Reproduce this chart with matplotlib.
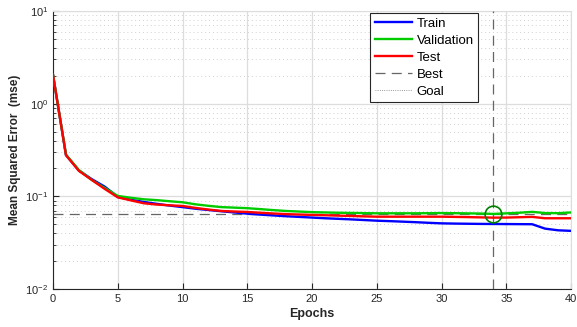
import matplotlib.pyplot as plt
from matplotlib.ticker import LogLocator, NullFormatter, FixedLocator

plt.rcParams['font.family'] = ['Liberation Sans', 'DejaVu Sans']

epochs = list(range(0, 41))
train = [2.04, 0.279, 0.190, 0.153, 0.127, 0.0985, 0.0920, 0.0870, 0.0830, 0.0795,
         0.0765, 0.0735, 0.0712, 0.0690, 0.0670, 0.0650, 0.0635, 0.0622, 0.0610, 0.0600,
         0.0590, 0.0580, 0.0572, 0.0564, 0.0555, 0.0546, 0.0540, 0.0533, 0.0526, 0.0518,
         0.0511, 0.0508, 0.0506, 0.0504, 0.0503, 0.0502, 0.0501, 0.0500, 0.0448, 0.0430,
         0.0424]
validation = [2.04, 0.282, 0.192, 0.150, 0.123, 0.101, 0.0965, 0.0929, 0.0910, 0.0885,
              0.0863, 0.0820, 0.0790, 0.0765, 0.0755, 0.0745, 0.0728, 0.0710, 0.0695, 0.0685,
              0.0675, 0.0670, 0.0665, 0.0662, 0.0659, 0.0656, 0.0656, 0.0656, 0.0656, 0.0658,
              0.0660, 0.0658, 0.0655, 0.0652, 0.0646, 0.0655, 0.0665, 0.0680, 0.0660, 0.0658,
              0.0670]
test = [2.04, 0.278, 0.188, 0.150, 0.120, 0.0975, 0.0905, 0.0842, 0.0815, 0.0800,
        0.0787, 0.0750, 0.0720, 0.0695, 0.0686, 0.0678, 0.0665, 0.0653, 0.0643, 0.0636,
        0.0630, 0.0625, 0.0619, 0.0614, 0.0608, 0.0603, 0.0603, 0.0603, 0.0603, 0.0603,
        0.0603, 0.0600, 0.0597, 0.0593, 0.0589, 0.0590, 0.0595, 0.0600, 0.0580, 0.0580,
        0.0580]
best_epoch = 34
best_perf = validation[best_epoch]
goal = 0

fig = plt.figure(figsize=(5.77, 3.27), dpi=100)
ax = fig.add_axes([0.0919, 0.1162, 0.8977, 0.8502])

lw = 1.7
ax.semilogy(epochs, train, color=(0, 0, 1), lw=lw, label='Train', zorder=5)
ax.semilogy(epochs, validation, color=(0, 0.8, 0), lw=lw, label='Validation', zorder=5)
ax.semilogy(epochs, test, color=(1, 0, 0), lw=lw, label='Test', zorder=5)
ax.plot([best_epoch, best_epoch], [1e-2, 1e1], color='#666666', lw=0.9,
        linestyle=(0, (8, 5)), label='Best', zorder=4)
ax.plot([0, 40], [best_perf, best_perf], color='#666666', lw=0.9,
        linestyle=(0, (8, 5)), zorder=4)
ax.plot([0, 40], [goal, goal], color='#777777', lw=0.6, linestyle=':', label='Goal')
ax.plot([best_epoch], [best_perf], 'o', ms=12, mfc='none', mec=(0, 0.5, 0), mew=1.2, zorder=6)

ax.set_xlim(0, 40)
ax.set_ylim(1e-2, 1e1)
ax.xaxis.set_major_locator(FixedLocator(range(0, 41, 5)))
ax.yaxis.set_major_locator(LogLocator(base=10, numticks=10))
ax.yaxis.set_minor_locator(LogLocator(base=10, subs=range(2, 10), numticks=20))
ax.yaxis.set_minor_formatter(NullFormatter())

ax.grid(True, which='major', color='#dddddd', lw=0.9)
ax.grid(True, which='minor', axis='y', color='#d0d0d0', lw=0.7, linestyle=(0, (1, 3)))
ax.set_axisbelow(True)

for side in ['top', 'right']:
    ax.spines[side].set_color('#dddddd')
for side in ['left', 'bottom']:
    ax.spines[side].set_color('#262626')
    ax.spines[side].set_linewidth(0.8)
ax.tick_params(which='both', direction='in', top=False, right=False,
               labelsize=8, colors='#262626', labelcolor='#262626')
ax.tick_params(which='major', length=4)
ax.tick_params(which='minor', length=2.5)

ax.set_xlabel('Epochs', fontsize=9, fontweight='bold', color='#262626', labelpad=3)
ax.set_ylabel('Mean Squared Error  (mse)', fontsize=8.5, fontweight='bold',
              color='#262626', labelpad=3)

leg = ax.legend(loc='upper right', bbox_to_anchor=(0.825, 1.0), fontsize=9.5,
                fancybox=False, framealpha=1, edgecolor='#262626',
                handlelength=2.8, handletextpad=0.35, borderpad=0.35,
                labelspacing=0.36, borderaxespad=0.15)
leg.get_frame().set_linewidth(0.8)

fig.savefig('out.png', dpi=100)
